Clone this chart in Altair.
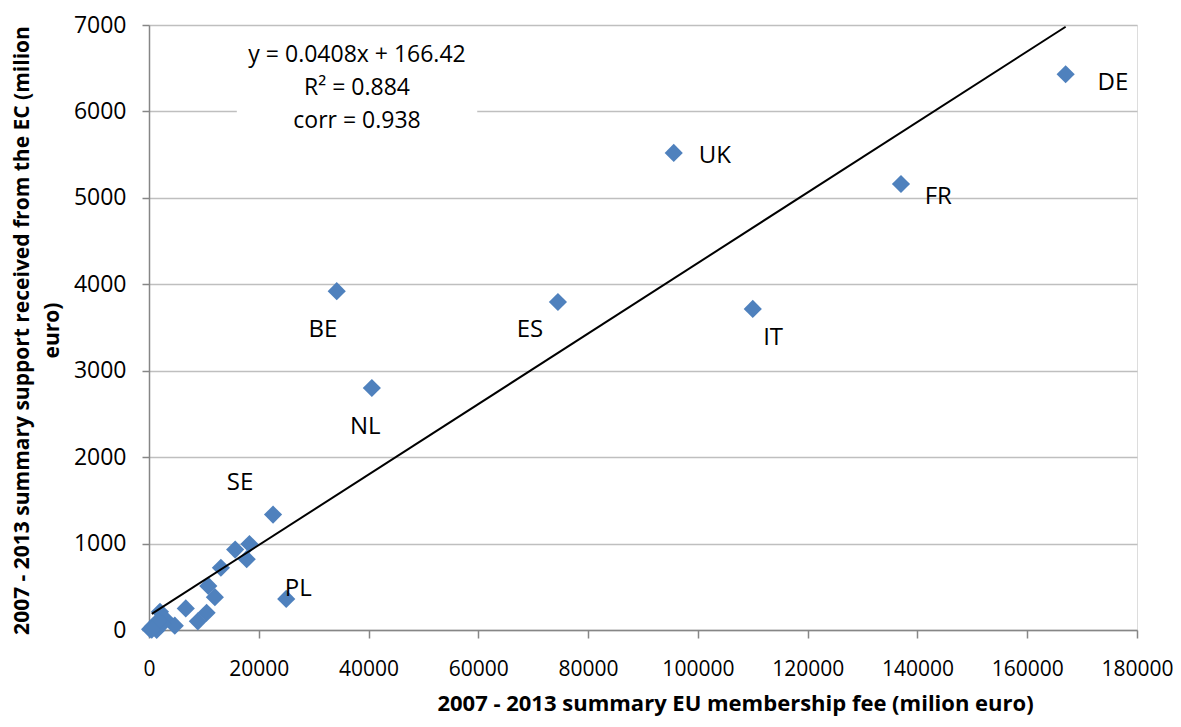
import altair as alt
import pandas as pd

# Country data (milion euro)
countries = ["DE", "UK", "FR", "IT", "ES", "BE", "NL", "SE", "PL",
             "c1", "c2", "c3", "c4", "c5", "c6", "c7", "c8", "c9",
             "c10", "c11", "c12", "c13", "c14", "c15", "c16", "c17", "c18"]
fee = [167000, 95600, 137000, 110000, 74500, 34200, 40600, 22600, 25000,
       18300, 15700, 17800, 13100, 10800, 12000, 6700, 10500, 8900,
       2000, 2900, 4700, 200, 1400, 700, 2400, 1600, 500]
support = [6430, 5520, 5160, 3715, 3795, 3920, 2800, 1335, 360,
           995, 930, 820, 720, 510, 380, 250, 200, 100,
           210, 130, 50, 10, 0, 40, 70, 100, 5]

# Labels shown on the chart and where they sit (data units)
label_names = ["DE", "UK", "FR", "IT", "ES", "BE", "NL", "SE", "PL"]
label_x = [175600, 103100, 143800, 113700, 69400, 31700, 39400, 16600, 27200]
label_y = [6330, 5485, 5010, 3380, 3470, 3470, 2350, 1700, 475]

# Trendline stated on the chart: y = 0.0408x + 166.42
slope, intercept = 0.0408, 166.42
trend_x = [500, 167000]
trend_y = [slope * v + intercept for v in trend_x]

eq_lines = ["y = 0.0408x + 166.42", "R² = 0.884", "corr = 0.938"]
eq_x = [37900, 37900, 37900]
eq_y = [6650, 6270, 5890]
box = {"x": [16000], "x2": [59800], "y": [6920], "y2": [5720]}

pts = pd.DataFrame({"country": countries, "fee": fee, "support": support})
labs = pd.DataFrame({"name": label_names, "x": label_x, "y": label_y})
trend = pd.DataFrame({"x": trend_x, "y": trend_y})
eq = pd.DataFrame({"t": eq_lines, "x": eq_x, "y": eq_y})
boxdf = pd.DataFrame(box)

FONT = "Open Sans"
xscale = alt.Scale(domain=[0, 180000], nice=False, zero=True)
yscale = alt.Scale(domain=[0, 7000], nice=False, zero=True)

xaxis = alt.Axis(
    values=list(range(0, 180001, 20000)), grid=False, format="d",
    labelFont=FONT, labelFontSize=21, labelColor="#000000", labelPadding=20,
    tickSize=8, tickColor="#868686", tickWidth=1.5,
    domainColor="#868686", domainWidth=1.5, labelFlush=False,
    title="2007 - 2013 summary EU membership fee (milion euro)",
    titleFont=FONT, titleFontSize=22, titleFontWeight="bold", titleColor="#000000",
    titleX=586, titleY=73, titleAlign="center", titleBaseline="middle",
)
yaxis = alt.Axis(
    values=list(range(0, 7001, 1000)), grid=True, gridColor="#BFBFBF", gridWidth=1.5,
    format="d", labelFont=FONT, labelFontSize=23, labelColor="#000000", labelPadding=16,
    tickSize=7, tickColor="#868686", tickWidth=1.5,
    domainColor="#868686", domainWidth=1.5,
    title=["2007 - 2013 summary support received from the EC (milion", "euro)"],
    titleFont=FONT, titleFontSize=21, titleFontWeight="bold", titleColor="#000000",
    titleLineHeight=30, titleX=-127, titleY=305, titleAlign="center",
    titleBaseline="middle", titleAngle=270,
)

base_pts = alt.Chart(pts).mark_point(
    shape="diamond", filled=True, size=330, color="#4F81BD", opacity=1
).encode(
    x=alt.X("fee:Q", scale=xscale, axis=xaxis),
    y=alt.Y("support:Q", scale=yscale, axis=yaxis),
)

line = alt.Chart(trend).mark_line(color="#000000", strokeWidth=2).encode(
    x=alt.X("x:Q", scale=xscale), y=alt.Y("y:Q", scale=yscale)
)

labels = alt.Chart(labs).mark_text(
    font=FONT, fontSize=24, color="#000000", align="center", baseline="middle"
).encode(x=alt.X("x:Q", scale=xscale), y=alt.Y("y:Q", scale=yscale), text="name:N")

boxmark = alt.Chart(boxdf).mark_rect(color="#FFFFFF").encode(
    x=alt.X("x:Q", scale=xscale), x2="x2:Q",
    y=alt.Y("y:Q", scale=yscale), y2="y2:Q",
)

eqtext = alt.Chart(eq).mark_text(
    font=FONT, fontSize=23, color="#000000", align="center", baseline="middle"
).encode(x=alt.X("x:Q", scale=xscale), y=alt.Y("y:Q", scale=yscale), text="t:N")

chart = alt.layer(base_pts, line, labels, boxmark, eqtext).properties(
    width=988, height=605,
    autosize=alt.AutoSizeParams(type="none"),
    padding={"left": 141, "top": 17, "right": 36, "bottom": 89},
).configure_view(stroke=None).configure(background="#FFFFFF")

chart.save("out.html", embed_options={"renderer": "svg", "actions": False})
